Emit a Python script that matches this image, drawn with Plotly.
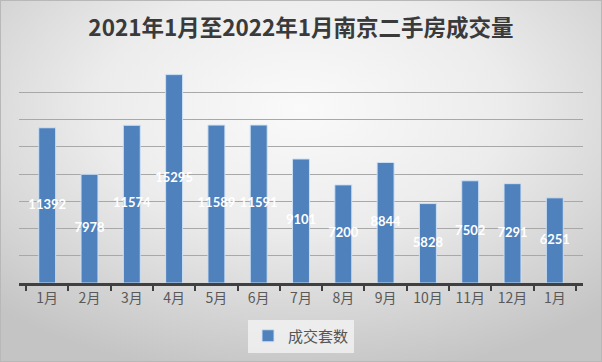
import plotly.graph_objects as go
import base64

months = ["1月", "2月", "3月", "4月", "5月", "6月", "7月", "8月", "9月", "10月", "11月", "12月", "1月 "]
tick_text = ["1月", "2月", "3月", "4月", "5月", "6月", "7月", "8月", "9月", "10月", "11月", "12月", "1月"]
deals = [11392, 7978, 11574, 15295, 11589, 11591, 9101, 7200, 8844, 5828, 7502, 7291, 6251]
series_name = "成交套数"
title_text = "2021年1月至2022年1月南京二手房成交量"

W, H = 602, 362
ml, mr, mt, mb = 19, 19, 65, 79

svg = f'''<svg xmlns="http://www.w3.org/2000/svg" width="{W}" height="{H}">
<defs><radialGradient id="g" cx="0.5" cy="0.3" r="0.75" gradientUnits="objectBoundingBox">
<stop offset="0" stop-color="#fafafa"/><stop offset="0.45" stop-color="#ececec"/><stop offset="1" stop-color="#c4c4c4"/>
</radialGradient></defs>
<rect x="0" y="0" width="{W}" height="{H}" fill="url(#g)"/>
<rect x="0.5" y="0.5" width="{W-1}" height="{H-1}" fill="none" stroke="#b8b8b8" stroke-width="1"/>
</svg>'''
src = "data:image/svg+xml;base64," + base64.b64encode(svg.encode()).decode()

pw = W - ml - mr
ph = H - mt - mb

fig = go.Figure()
fig.add_trace(go.Bar(
    x=months, y=deals, name=series_name,
    marker=dict(color="#4f81bd", line=dict(color="rgba(205,225,245,0.95)", width=1)),
    width=0.4, hoverinfo="skip",
))
fig.add_trace(go.Scatter(
    x=months, y=[v / 2 for v in deals], mode="text",
    text=[str(v) for v in deals],
    textfont=dict(family="Lato", size=13, color="white", weight="bold"),
    showlegend=False, hoverinfo="skip",
))

fig.add_layout_image(dict(
    source=src, xref="paper", yref="paper",
    x=-ml / pw, y=1 + mt / ph, sizex=W / pw, sizey=H / ph,
    xanchor="left", yanchor="top", sizing="stretch", layer="below",
))

fig.update_layout(
    width=W, height=H,
    margin=dict(l=ml, r=mr, t=mt, b=mb, autoexpand=False),
    paper_bgcolor="rgba(0,0,0,0)", plot_bgcolor="rgba(0,0,0,0)",
    hovermode=False,
    title=dict(text=title_text, x=0.5, xanchor="center", y=1 - 28 / H, yanchor="middle",
               font=dict(family="Noto Sans CJK SC", size=22.5, color="#3a3a3a", weight="bold")),
    showlegend=True,
    legend=dict(orientation="h", x=0.5, xanchor="center", yref="container", y=1 - 336 / H, yanchor="middle",
                bgcolor="rgba(246,246,246,0.75)", font=dict(family="Noto Sans CJK SC", size=15, color="#555555"),
                itemwidth=30),
    xaxis=dict(
        tickmode="array", tickvals=months, ticktext=tick_text,
        tickson="boundaries", ticks="outside", ticklen=5, tickwidth=2, tickcolor="#404040",
        showline=True, linecolor="#404040", linewidth=3,
        tickfont=dict(family="Noto Sans CJK SC", size=14, color="#595959"),
        showgrid=False, fixedrange=True, automargin=False,
    ),
    yaxis=dict(
        range=[0, 16000], dtick=2000, showticklabels=False, automargin=False,
        showgrid=True, gridcolor="#a8a8a8", gridwidth=1, zeroline=False, fixedrange=True,
    ),
)

fig.write_html("out.html", config={"displayModeBar": False},
               post_script="document.body.style.margin='0';document.body.style.overflow='hidden';")
